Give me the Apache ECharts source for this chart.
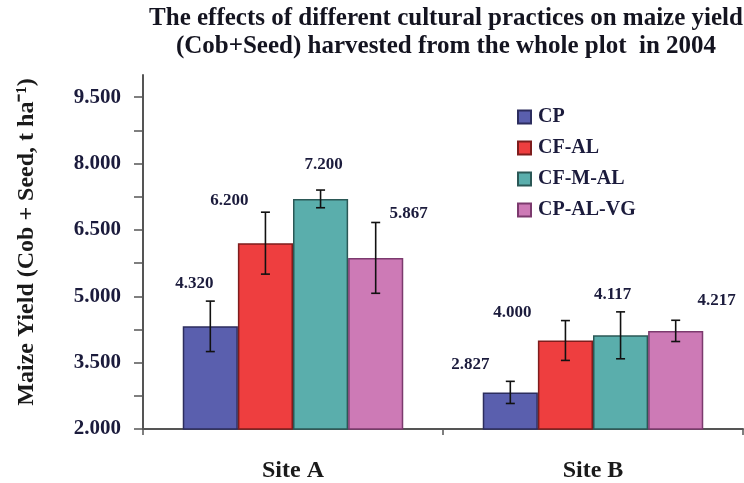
<!DOCTYPE html>
<html>
<head>
<meta charset="utf-8">
<script src="https://cdn.jsdelivr.net/npm/echarts@6/dist/echarts.min.js"></script>
<style>html,body{margin:0;padding:0;background:#fff}#c{width:744px;height:483px}</style>
</head>
<body>
<div id="c"></div>
<script>
// ---- data ----
const categories = ['Site A', 'Site B'];
const seriesNames = ['CP', 'CF-AL', 'CF-M-AL', 'CP-AL-VG'];
const cpValues = [4.320, 2.827];
const cfalValues = [6.200, 4.000];
const cfmalValues = [7.200, 4.117];
const cpalvgValues = [5.867, 4.217];
const cpErrors = [0.57, 0.25];
const cfalErrors = [0.70, 0.45];
const cfmalErrors = [0.20, 0.53];
const cpalvgErrors = [0.80, 0.24];
const yTickValues = [2, 2.75, 3.5, 4.25, 5, 5.75, 6.5, 7.25, 8, 8.75, 9.5];
const yLabelValues = [2, 3.5, 5, 6.5, 8, 9.5];

// ---- style ----
const values = [cpValues, cfalValues, cfmalValues, cpalvgValues];
const errors = [cpErrors, cfalErrors, cfmalErrors, cpalvgErrors];
const fills = ['#5a5fae', '#ee3e3f', '#5aaeac', '#cd7ab6'];
const borders = ['#2c2d5e', '#7e1d1d', '#2b5856', '#7c3a6e'];
// label offsets (px) relative to error-bar top, per series, per category
const labelOffsets = [
  [[-16, -18], [-40, -17]],
  [[-36, -12], [-53, -8]],
  [[3, -25], [-8, -17]],
  [[33, -9], [41, -20]]
];
const GAP = 0.265;
const serif = 'Liberation Serif, Times New Roman, serif';
const textColor = '#1b1b3c';

const chart = echarts.init(document.getElementById('c'), null, {renderer: 'canvas'});

const barSeries = seriesNames.map((n, i) => ({
  name: n,
  type: 'bar',
  data: values[i],
  barGap: '0%',
  barCategoryGap: (GAP * 100) + '%',
  itemStyle: {color: fills[i], borderColor: borders[i], borderWidth: 1.5},
  z: 2
}));

const errData = [];
seriesNames.forEach((n, i) => {
  values[i].forEach((v, j) => errData.push([j, v, errors[i][j], i]));
});

const errSeries = {
  type: 'custom',
  silent: true,
  z: 5,
  data: errData,
  encode: {x: 0, y: 1},
  renderItem: function (params, api) {
    const j = api.value(0), v = api.value(1), e = api.value(2), i = api.value(3);
    const band = api.size([1, 0])[0];
    const c = api.coord([j, v]);
    const group = band * (1 - GAP);
    const bw = group / 4;
    const x = c[0] - group / 2 + bw * (i + 0.5);
    const top = api.coord([j, v + e])[1];
    const bot = api.coord([j, v - e])[1];
    const cap = 4.5;
    const st = {stroke: '#111', lineWidth: 1.6};
    const off = labelOffsets[i][j];
    return {
      type: 'group',
      children: [
        {type: 'line', shape: {x1: x, y1: top, x2: x, y2: bot}, style: st},
        {type: 'line', shape: {x1: x - cap, y1: top, x2: x + cap, y2: top}, style: st},
        {type: 'line', shape: {x1: x - cap, y1: bot, x2: x + cap, y2: bot}, style: st},
        {type: 'text', x: x + off[0], y: top + off[1], style: {
          text: v.toFixed(3), fill: textColor, font: 'bold 17px ' + serif,
          align: 'center', verticalAlign: 'middle'
        }}
      ]
    };
  }
};

chart.setOption({
  animation: false,
  title: {
    text: 'The effects of different cultural practices on maize yield\n(Cob+Seed) harvested from the whole plot  in 2004',
    left: 441, top: 0, textAlign: 'center',
    textStyle: {fontFamily: serif, fontWeight: 'bold', fontSize: 25, lineHeight: 28, color: '#141420'}
  },
  legend: {
    orient: 'vertical', left: 512, top: 102,
    itemWidth: 13, itemHeight: 13, itemGap: 11,
    icon: 'rect',
    data: seriesNames,
    textStyle: {fontFamily: serif, fontWeight: 'bold', fontSize: 20, color: textColor, padding: [0, 0, 0, 2]}
  },
  grid: {left: 143, right: 1, top: 75, bottom: 54, containLabel: false},
  xAxis: {
    type: 'category', data: categories,
    axisLine: {lineStyle: {color: '#555', width: 2}},
    axisTick: {show: true, length: 6, lineStyle: {color: '#555', width: 1.5}},
    axisLabel: {fontFamily: serif, fontWeight: 'bold', fontSize: 24, color: '#1a1a1a', margin: 30}
  },
  yAxis: {
    type: 'value', min: 2, max: 10,
    name: 'Maize Yield (Cob + Seed, t ha\u207B\u00B9)',
    nameLocation: 'middle', nameGap: 104,
    nameTextStyle: {fontFamily: serif, fontWeight: 'bold', fontSize: 24, color: '#1a1a1a', padding: [0, 0, 0, 20]},
    splitLine: {show: false},
    axisLine: {show: true, lineStyle: {color: '#555', width: 2}},
    axisTick: {show: true, length: 9, customValues: yTickValues, lineStyle: {color: '#555', width: 1.5}},
    axisLabel: {
      customValues: yLabelValues, margin: 22,
      fontFamily: serif, fontWeight: 'bold', fontSize: 21, color: textColor,
      formatter: v => v.toFixed(3)
    }
  },
  series: barSeries.concat([errSeries])
});
</script>
</body>
</html>
